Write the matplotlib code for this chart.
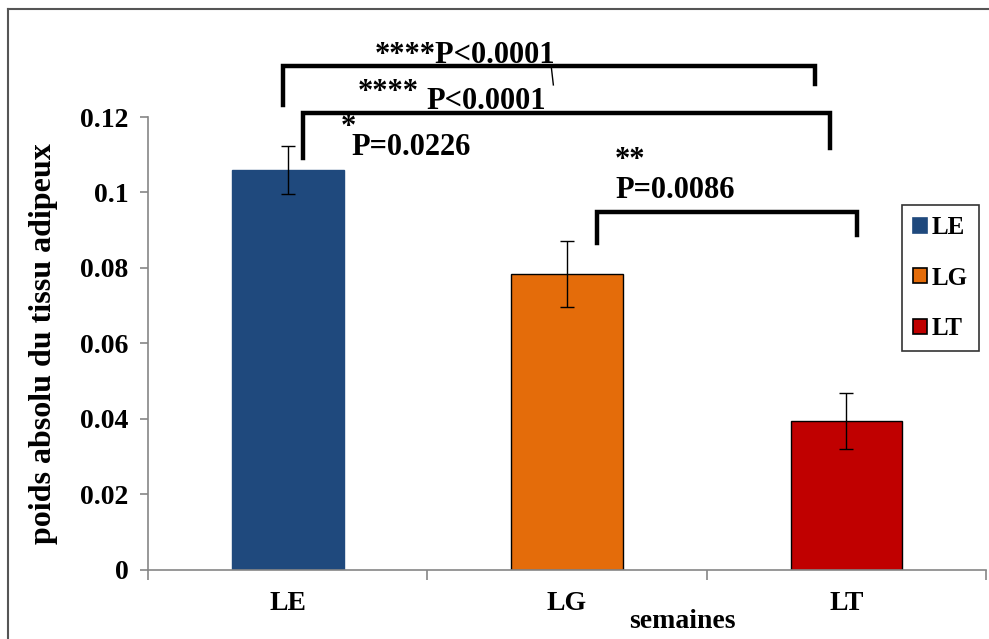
import numpy as np
import matplotlib
matplotlib.use('Agg')
import matplotlib.pyplot as plt
from matplotlib.lines import Line2D

plt.rcParams['font.family'] = ['Liberation Serif', 'DejaVu Serif']
plt.rcParams['font.weight'] = 'bold'

# Absolute adipose tissue weight per group (mean and error)
groups = ['LE', 'LG', 'LT']
means = [0.106, 0.0785, 0.0395]
errors = [0.0063, 0.0087, 0.0075]
colors = ['#1F497D', '#E46C0A', '#C00000']
edges = ['#1F497D', 'black', 'black']

# Significance brackets: (x left, x right, y top, left leg bottom, right leg bottom)
brackets = [
    (-0.018, 1.889, 0.1335, 0.1232, 0.1287),
    (0.054, 1.943, 0.1211, 0.1091, 0.1118),
    (1.108, 2.039, 0.0948, 0.0866, 0.0887),
]
# p-value labels: (x, y, text, horizontal alignment)
pvals = [
    (0.634, 0.1362, '****P<0.0001', 'center'),
    (0.251, 0.1264, '****', 'left'),
    (0.495, 0.1240, 'P<0.0001', 'left'),
    (0.190, 0.1172, '*', 'left'),
    (0.229, 0.1120, 'P=0.0226', 'left'),
    (1.172, 0.1085, '**', 'left'),
    (1.172, 0.1005, 'P=0.0086', 'left'),
]

fig = plt.figure(figsize=(9.89, 6.39), dpi=100)
ax = fig.add_axes([0.1497, 0.108, 0.8473, 0.7089])

x = np.arange(len(groups))
bars = ax.bar(x, means, width=0.4, color=colors, edgecolor=edges, linewidth=1.0,
              yerr=errors, capsize=5, error_kw=dict(ecolor='black', elinewidth=1.0, capthick=1.0),
              zorder=2)

ax.set_xlim(-0.5, 2.5)
ax.set_ylim(0, 0.12)
ax.set_yticks([0, 0.02, 0.04, 0.06, 0.08, 0.1, 0.12])
ax.set_yticklabels(['0', '0.02', '0.04', '0.06', '0.08', '0.1', '0.12'])
ax.set_xticks(x)
ax.set_xticklabels(groups)
ax.set_xticks([-0.5, 0.5, 1.5, 2.5], minor=True)
ax.tick_params(axis='x', which='major', length=0, pad=15, labelsize=20)
ax.tick_params(axis='x', which='minor', length=7, color='#868686', width=1.2)
ax.tick_params(axis='y', length=6, color='#868686', width=1.2, labelsize=20, pad=8)

for side in ['top', 'right']:
    ax.spines[side].set_visible(False)
for side in ['left', 'bottom']:
    ax.spines[side].set_color('#868686')
    ax.spines[side].set_linewidth(1.2)

ax.set_ylabel('poids absolu du tissu adipeux', fontsize=23, fontweight='bold')
ax.yaxis.set_label_coords(-0.108, 0.5)
ax.set_xlabel('semaines', fontsize=20, fontweight='bold')
ax.xaxis.set_label_coords(0.638, -0.086)

# brackets drawn above the plotting area
for x0, x1, yt, yl, yr in brackets:
    ax.plot([x0, x0, x1, x1], [yl, yt, yt, yr], color='black', lw=3.2,
            solid_joinstyle='miter', clip_on=False, zorder=3)
ax.plot([0.944, 0.951], [0.1330, 0.1285], color='black', lw=1.0, clip_on=False)

for px, py, txt, ha in pvals:
    ax.text(px, py, txt, ha=ha, va='center', fontsize=22, fontweight='bold', clip_on=False)

handles = [plt.Rectangle((0, 0), 1, 1, facecolor=c, edgecolor=e, linewidth=1.2)
           for c, e in zip(colors, edges)]
leg = ax.legend(handles, groups, loc='upper left', bbox_to_anchor=(0.8996, 0.806),
                borderaxespad=0, fancybox=False, frameon=True, edgecolor='black',
                fontsize=18, handlelength=0.55, handleheight=0.55, handletextpad=0.2,
                labelspacing=1.1, borderpad=0.45)
leg.get_frame().set_linewidth(1.2)
leg.set_zorder(5)

# outer chart border
fig.add_artist(Line2D([8 / 989, 8 / 989], [0, 1 - 9 / 639], transform=fig.transFigure,
                      color='#555555', lw=1.5))
fig.add_artist(Line2D([8 / 989, 1], [1 - 9 / 639, 1 - 9 / 639], transform=fig.transFigure,
                      color='#555555', lw=1.5))

fig.savefig('out.png', dpi=100)
